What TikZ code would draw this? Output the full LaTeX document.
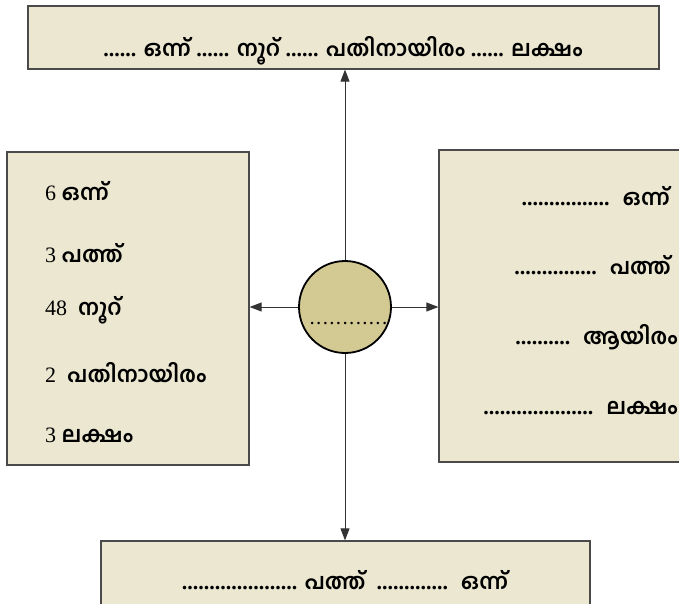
\documentclass[tikz,border=0pt]{standalone}
\usepackage{fontspec}
\setmainfont{Liberation Serif}
\newfontfamily\mlfont[Script=Malayalam]{Hind Kochi}
\usetikzlibrary{arrows.meta}

\definecolor{boxfill}{HTML}{EBE7D1}
\definecolor{hubfill}{HTML}{D3C992}
\definecolor{edgegray}{HTML}{4A4A4A}
\definecolor{linkgray}{HTML}{333333}

\newcommand{\ml}[1]{{\mlfont\bfseries #1}}
\newcommand{\dts}[1]{\textbf{#1}}

\tikzset{
  panel/.style={draw=edgegray, line width=1.2pt, fill=boxfill, rectangle},
  entry/.style={draw=none, inner sep=0pt, font=\fontsize{22}{26}\selectfont},
  link/.style={draw=linkgray, line width=0.9pt, -{Triangle[length=12pt,width=9pt]}}
}

\begin{document}
\begin{tikzpicture}
    \clip (0pt,0pt) rectangle (679pt,-604pt);

    % boxes
    \node[panel,
    minimum width = 631pt,
    minimum height = 63pt
    ](topbox) at (343.5pt,-37.5pt) {};
    \node[panel,
    minimum width = 242pt,
    minimum height = 313pt
    ](leftbox) at (128pt,-308.5pt) {};
    \node[panel,
    minimum width = 262pt,
    minimum height = 312pt
    ](rightbox) at (570pt,-306pt) {};
    \node[panel,
    minimum width = 489pt,
    minimum height = 110pt
    ](bottombox) at (345.5pt,-596pt) {};

    \node[circle,
    draw=black,
    line width = 1.8pt,
    fill=hubfill,
    minimum size = 92pt
    ](hub) at (345pt,-307pt) {};

    % top box text
    \node[entry, anchor=base](toptext) at (343pt,-57pt)
    {\dts{......} \ml{ഒന്ന്} \dts{......} \ml{നൂറ്} \dts{......} \ml{പതിനായിരം} \dts{......} \ml{ലക്ഷം}};

    % left box text
    \node[entry, anchor=base west](lone) at (45pt,-200pt) {6 \ml{ഒന്ന്}};
    \node[entry, anchor=base west](lten) at (45pt,-262pt) {3 \ml{പത്ത്}};
    \node[entry, anchor=base west](lhund) at (45pt,-315pt) {48 \ \ml{നൂറ്}};
    \node[entry, anchor=base west](ltth) at (45pt,-382pt) {2 \ \ml{പതിനായിരം}};
    \node[entry, anchor=base west](llakh) at (45pt,-442pt) {3 \ml{ലക്ഷം}};

    % right box text
    \node[entry, anchor=base east](rone) at (670pt,-205pt) {\dts{................} \ \ml{ഒന്ന്}};
    \node[entry, anchor=base east](rten) at (671pt,-274pt) {\dts{...............} \ \ml{പത്ത്}};
    \node[entry, anchor=base east](rthou) at (678pt,-344pt) {\dts{..........} \ \ml{ആയിരം}};
    \node[entry, anchor=base east](rlakh) at (678pt,-414pt) {\dts{....................} \ \ml{ലക്ഷം}};

    % bottom box text
    \node[entry, anchor=base](bottext) at (345pt,-589pt)
    {\dts{.....................} \ml{പത്ത്} \ \dts{.............} \ \ml{ഒന്ന്}};

    % blank in the circle
    \node[entry, anchor=base](blank) at (348.5pt,-324pt)
    {\fontsize{15}{15}\selectfont\bfseries\hbox to 79pt{\xleaders\hbox to 6.58pt{\hss.\hss}\hfill}};

    % arrows
    \draw[link] (hub.north) -- (hub.north |- topbox.south);
    \draw[link] (hub.south) -- (hub.south |- bottombox.north);
    \draw[link] (hub.west) -- (hub.west -| leftbox.east);
    \draw[link] (hub.east) -- (hub.east -| rightbox.west);
\end{tikzpicture}
\end{document}
